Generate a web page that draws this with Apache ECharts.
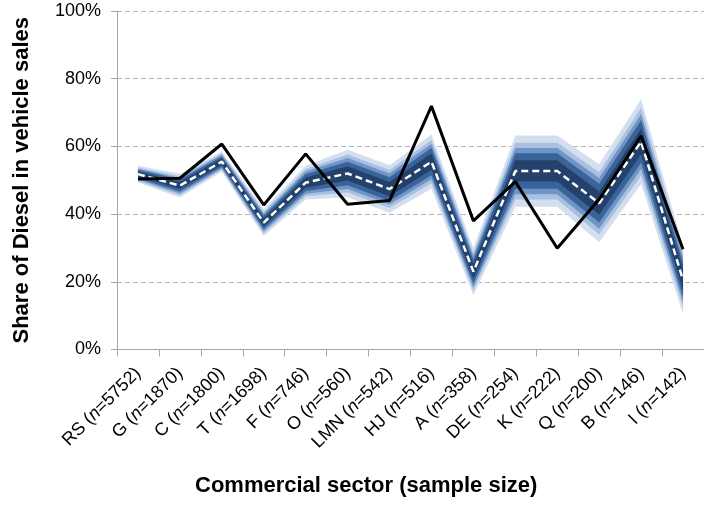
<!DOCTYPE html>
<html>
<head>
<meta charset="utf-8">
<script src="https://cdn.jsdelivr.net/npm/echarts@6/dist/echarts.min.js"></script>
<style>
html,body{margin:0;padding:0;background:#fff;}
#chart{width:704px;height:505px;}
</style>
</head>
<body>
<div id="chart"></div>
<script>
var sectors = ['RS','G','C','T','F','O','LMN','HJ','A','DE','K','Q','B','I'];
var sampleSizes = [5752,1870,1800,1698,746,560,542,516,358,254,222,200,146,142];
var observed = [50.4,50.6,60.7,42.7,57.8,42.9,44.0,71.9,38.0,49.6,29.9,44.4,63.1,29.6];
var median   = [51.8,48.4,55.5,37.5,49.3,52.0,47.4,55.5,23.0,52.7,52.7,43.2,61.4,20.5];
var p05 = [49.3,44.9,52.5,33.5,44.3,45.0,40.4,47.5,16.0,42.2,42.2,31.7,48.9,10.5];
var p95 = [54.3,51.9,58.5,41.5,54.3,59.0,54.4,63.5,30.0,63.2,63.2,54.7,73.9,30.5];
var p10 = [49.8,45.6,53.1,34.3,45.3,46.4,41.8,49.1,17.4,44.3,44.3,34.0,51.4,12.5];
var p90 = [53.8,51.2,57.9,40.7,53.3,57.6,53.0,61.9,28.6,61.1,61.1,52.4,71.4,28.5];
var p20 = [50.2,46.1,53.5,34.9,46.0,47.4,42.8,50.3,18.4,45.9,45.9,35.7,53.3,14.0];
var p80 = [53.4,50.7,57.5,40.1,52.6,56.6,52.0,60.7,27.6,59.5,59.5,50.7,69.5,27.0];
var p30 = [50.6,46.7,54.0,35.5,46.8,48.5,43.9,51.5,19.5,47.5,47.5,37.5,55.2,15.5];
var p70 = [53.1,50.2,57.0,39.5,51.8,55.5,50.9,59.5,26.5,58.0,58.0,49.0,67.7,25.5];
var p40 = [51.1,47.4,54.6,36.3,47.8,49.9,45.3,53.1,20.9,49.6,49.6,39.8,57.7,17.5];
var p60 = [52.6,49.5,56.4,38.7,50.8,54.1,49.5,57.9,25.1,55.9,55.9,46.7,65.2,23.5];
var yTicks = [0,20,40,60,80,100];

var bands = [
  {lo:p05, hi:p95, color:'#d3dfef'},
  {lo:p10, hi:p90, color:'#a9c0e0'},
  {lo:p20, hi:p80, color:'#6f94c6'},
  {lo:p30, hi:p70, color:'#3a6499'},
  {lo:p40, hi:p60, color:'#23416b'}
];

var series = [];
bands.forEach(function(b, i){
  series.push({
    type:'line', stack:'band'+i, data:b.lo, symbol:'none', silent:true,
    lineStyle:{width:0, opacity:0}
  });
  series.push({
    type:'line', stack:'band'+i, data:b.hi.map(function(v,k){return +(v-b.lo[k]).toFixed(2);}),
    symbol:'none', silent:true,
    lineStyle:{width:0, opacity:0},
    areaStyle:{color:b.color, opacity:1}
  });
});
series.push({
  type:'line', data:median, symbol:'none',
  lineStyle:{color:'#ffffff', width:2.5, type:[7,4]}, z:5
});
series.push({
  type:'line', data:observed, symbol:'none',
  lineStyle:{color:'#000000', width:3}, z:6
});

var chart = echarts.init(document.getElementById('chart'));
chart.setOption({
  animation:false,
  backgroundColor:'#ffffff',
  grid:{left:117, right:-7, top:11, bottom:155.5, containLabel:false},
  xAxis:{
    type:'category', data:sectors, boundaryGap:true,
    axisLine:{lineStyle:{color:'#a6a6a6', width:1}},
    axisTick:{show:true, length:7, alignWithLabel:false, lineStyle:{color:'#a6a6a6'}},
    axisLabel:{
      rotate:45, interval:0, margin:21, color:'#000',
      fontFamily:'Liberation Sans, Arial', fontSize:18,
      formatter:function(v, idx){
        return '{a|' + v + ' (}{i|n}{a|=' + sampleSizes[idx] + ')}';
      },
      rich:{
        a:{fontFamily:'Liberation Sans, Arial', fontSize:18, color:'#000'},
        i:{fontFamily:'Liberation Sans, Arial', fontSize:18, fontStyle:'italic', color:'#000'}
      }
    }
  },
  yAxis:{
    type:'value', min:yTicks[0], max:yTicks[yTicks.length-1], interval:20,
    axisLine:{show:true, lineStyle:{color:'#a6a6a6', width:1}},
    axisTick:{show:true, length:6, lineStyle:{color:'#a6a6a6'}},
    axisLabel:{formatter:'{value}%', color:'#000', fontFamily:'Liberation Sans, Arial', fontSize:18, margin:16},
    splitLine:{show:true, lineStyle:{color:'#b4b4b4', type:[5,3], width:1}},
    name:'Share of Diesel in vehicle sales', nameLocation:'middle', nameGap:84, nameRotate:90,
    nameTextStyle:{fontFamily:'Liberation Sans, Arial', fontSize:22, fontWeight:'bold', color:'#000'}
  },
  graphic:[{
    type:'text', x:195, y:486, silent:true,
    style:{text:'Commercial sector (sample size)', font:'bold 22px "Liberation Sans", Arial', fill:'#000', verticalAlign:'middle', align:'left'}
  }],
  series:series
});
</script>
</body>
</html>
